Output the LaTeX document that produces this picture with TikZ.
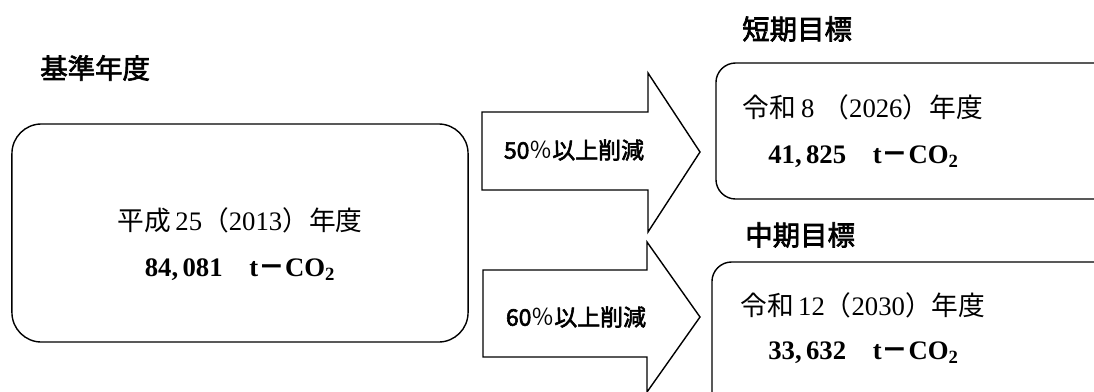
\documentclass[tikz,border=0pt]{standalone}
\usepackage{fontspec}
\setmainfont{Liberation Serif}
\newfontfamily\jpsans{Noto Sans CJK JP}
\newfontfamily\jpmid{Noto Sans CJK JP}[FakeBold=2.5]
\newcommand{\jp}[1]{{\jpsans #1}}
\tikzset{
	basebox/.style={draw, line width=1pt, rounded corners=21pt, inner sep=0pt},
	goalbox/.style={draw, line width=1pt, rounded corners=14pt, inner sep=0pt},
	heading/.style={font=\jpmid\fontsize{19.5}{23}\selectfont, inner sep=0pt, anchor=west},
	yearline/.style={font=\fontsize{19}{22}\selectfont, inner sep=0pt},
	amount/.style={font=\bfseries\fontsize{19}{22}\selectfont, inner sep=0pt},
	cutarrow/.style={draw, line width=1pt, fill=white, line join=miter},
	cutlabel/.style={font=\jpmid\fontsize{16.3}{19}\selectfont, inner sep=0pt}
}
\begin{document}
\begin{tikzpicture}[x=0.025cm, y=-0.025cm]
			\useasboundingbox (0, 0) rectangle (1094, 391);
			\clip (0, 0) rectangle (1094, 391);
			\node[heading] (baselabel) at (40, 68) {基準年度};
			\node[basebox, minimum width=11.4cm, minimum height=5.45cm] (base) at (240, 233) {};
			\node[yearline] (baseyear) at (240, 220) {\jp{平成}\,25\jp{（}2013\jp{）年度}};
			\node[amount] (baseamount) at (240, 270) {84,\,081\quad t\jp{－}CO\textsubscript{2}};
			\draw[cutarrow] (482, 112) -- (648, 112) -- (648, 73) -- (700, 152) -- (648, 232) -- (648, 190) -- (482, 190) -- cycle;
			\node[cutlabel] (cut50) at (574, 150) {50\jp{％}以上削減};
			\draw[cutarrow] (483, 270) -- (647, 270) -- (647, 242) -- (700, 317) -- (647, 392) -- (647, 357) -- (483, 357) -- cycle;
			\node[cutlabel] (cut60) at (576, 317) {60\jp{％}以上削減};
			\node[heading] (shortlabel) at (742, 29) {短期目標};
			\node[goalbox, minimum width=10.1cm, minimum height=3.4cm] (short) at (918, 131) {};
			\node[yearline, anchor=west] (shortyear) at (742, 107) {\jp{令和}\hspace{0.2em}8\hspace{0.3em}\jp{（}2026\jp{）年度}};
			\node[amount, anchor=west] (shortamount) at (768, 157) {41,\,825\quad t\jp{－}CO\textsubscript{2}};
			\node[heading] (midlabel) at (745, 235) {中期目標};
			\node[goalbox, minimum width=10.2cm, minimum height=3.95cm] (mid) at (916, 341) {};
			\node[yearline, anchor=west] (midyear) at (740, 305) {\jp{令和}\,12\jp{（}2030\jp{）年度}};
			\node[amount, anchor=west] (midamount) at (768, 353) {33,\,632\quad t\jp{－}CO\textsubscript{2}};
		\end{tikzpicture}
\end{document}
